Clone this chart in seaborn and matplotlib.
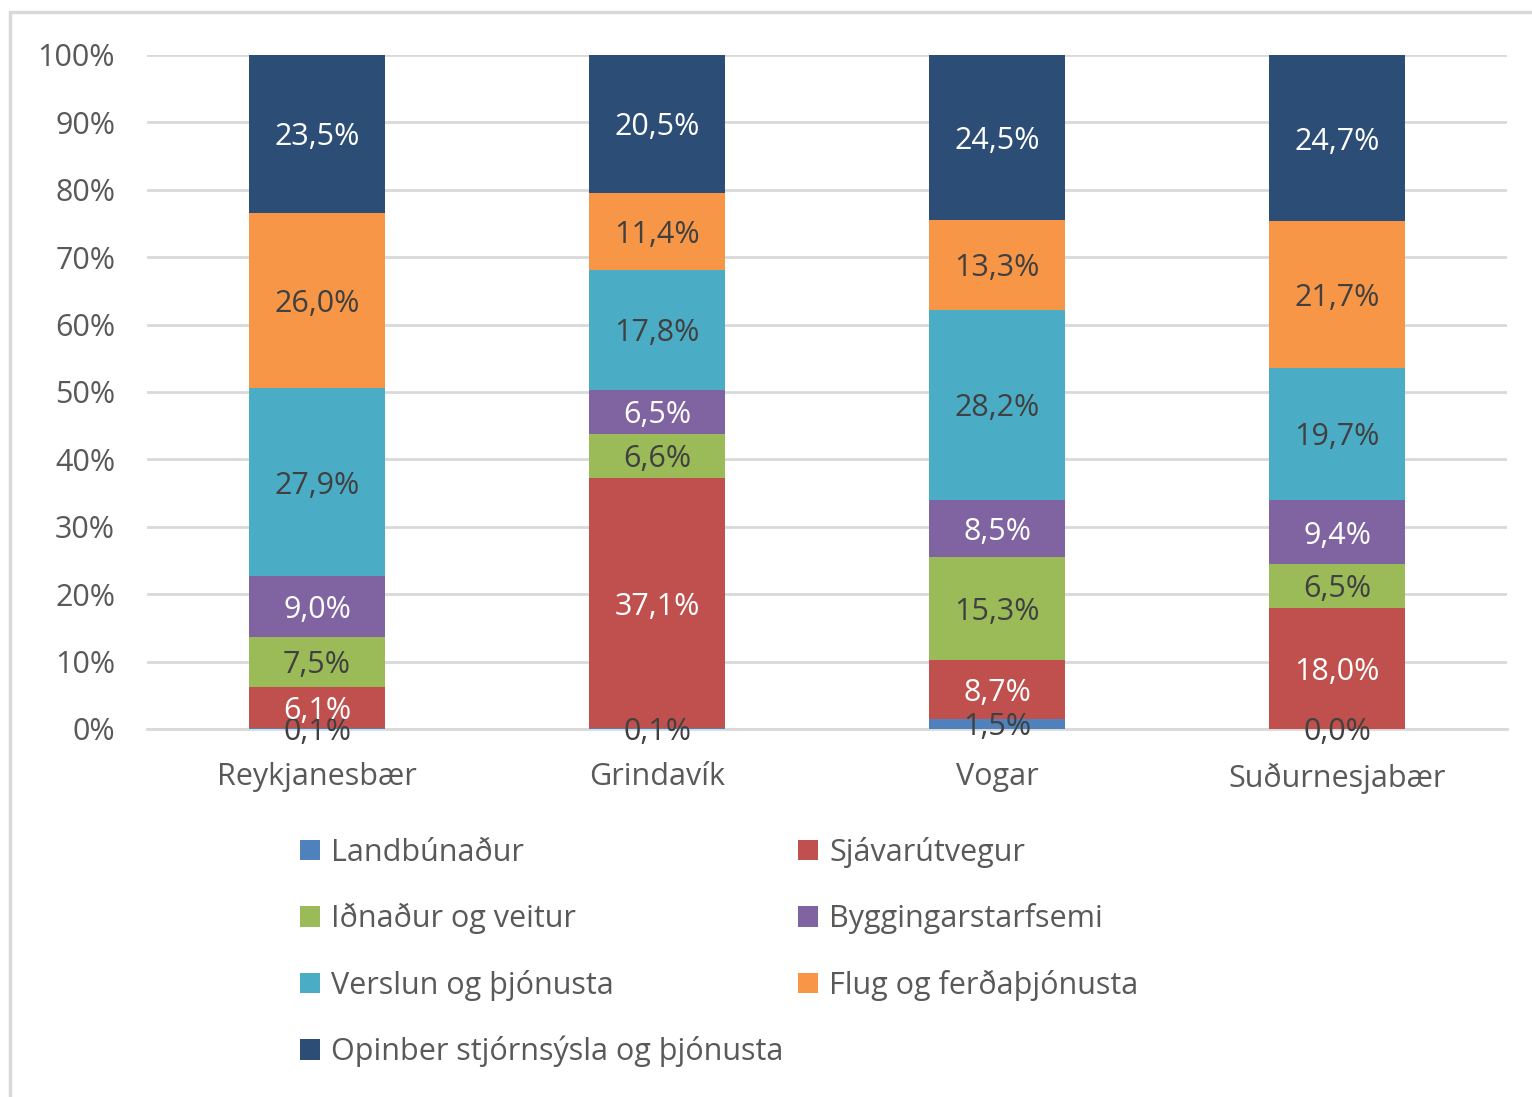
import matplotlib
matplotlib.use("Agg")
import matplotlib.pyplot as plt
import seaborn as sns
import pandas as pd
import numpy as np
from matplotlib.patches import Rectangle, Patch

# Data (percent of employment by sector)
towns = ['Reykjanesbær', 'Grindavík', 'Vogar', 'Suðurnesjabær']
sectors = ['Landbúnaður', 'Sjávarútvegur', 'Iðnaður og veitur', 'Byggingarstarfsemi',
           'Verslun og þjónusta', 'Flug og ferðaþjónusta', 'Opinber stjórnsýsla og þjónusta']
landbunadur = [0.1, 0.1, 1.5, 0.0]
sjavarutvegur = [6.1, 37.1, 8.7, 18.0]
idnadur = [7.5, 6.6, 15.3, 6.5]
byggingar = [9.0, 6.5, 8.5, 9.4]
verslun = [27.9, 17.8, 28.2, 19.7]
flug = [26.0, 11.4, 13.3, 21.7]
opinber = [23.5, 20.5, 24.5, 24.7]

colors = ['#4f81bd', '#c0504d', '#9bbb59', '#8064a2', '#4bacc6', '#f79646', '#2c4d75']
label_colors = ['#404040', 'white', '#404040', 'white', '#404040', '#404040', 'white']

sns.set_style("white")
plt.rcParams['font.family'] = ['Open Sans', 'DejaVu Sans']
FS = 22

df = pd.DataFrame([landbunadur, sjavarutvegur, idnadur, byggingar, verslun, flug, opinber],
                  index=sectors, columns=towns)
# normalise each column to 100 (100% stacked chart)
share = df / df.sum() * 100
cum = share.cumsum()

fig = plt.figure(figsize=(15.32, 10.97), dpi=100)
ax = fig.add_axes([0.096, 0.3355, 0.8877, 0.6144])

# draw from the top of the stack down so each layer covers the one above it
for i in range(len(sectors) - 1, -1, -1):
    layer = pd.DataFrame({'town': towns, 'value': cum.iloc[i].values})
    sns.barplot(data=layer, x='town', y='value', color=colors[i], width=0.4,
                saturation=1, linewidth=0, edgecolor='none', ax=ax, zorder=3)

# segment labels
for i, s in enumerate(sectors):
    for j, t in enumerate(towns):
        v = df.loc[s, t]
        ymid = cum.loc[s, t] - share.loc[s, t] / 2
        ax.text(j, ymid - 0.5, f"{v:.1f}%".replace('.', ','), ha='center', va='center',
                fontsize=FS, color=label_colors[i], zorder=5)

ax.set_ylim(0, 100)
ax.set_xlim(-0.5, 3.5)
ax.set_yticks(np.arange(0, 101, 10))
ax.set_yticklabels([f"{v}%" for v in range(0, 101, 10)])
ax.grid(axis='y', color='#d9d9d9', linewidth=2, zorder=0)
ax.set_axisbelow(True)
for sp in ax.spines.values():
    sp.set_visible(False)
ax.spines['bottom'].set_visible(True)
ax.spines['bottom'].set_color('#d9d9d9')
ax.spines['bottom'].set_linewidth(2)
ax.set_xlabel('')
ax.set_ylabel('')
ax.tick_params(axis='y', labelsize=FS, colors='#595959', length=0, pad=23)
ax.tick_params(axis='x', labelsize=FS, colors='#595959', length=0, pad=24)

# legend, row-major order in two columns
handles = [Patch(facecolor=c, edgecolor='none') for c in colors]
order = [0, 2, 4, 6, 1, 3, 5]
leg = fig.legend([handles[k] for k in order], [sectors[k] for k in order],
                 ncol=2, loc='upper left', bbox_to_anchor=(0.196, 0.237), frameon=False,
                 fontsize=FS, handlelength=0.65, handleheight=0.65, handletextpad=0.35,
                 columnspacing=0.5, labelspacing=1.15, borderpad=0, borderaxespad=0,
                 labelcolor='#595959')

# outer chart border
fig.patches.append(Rectangle((10 / 1532, -0.01), 1.02, 1 - 12 / 1097 + 0.01,
                             transform=fig.transFigure, fill=False,
                             edgecolor='#d9d9d9', linewidth=2.5))

fig.savefig('out.png', dpi=100)
